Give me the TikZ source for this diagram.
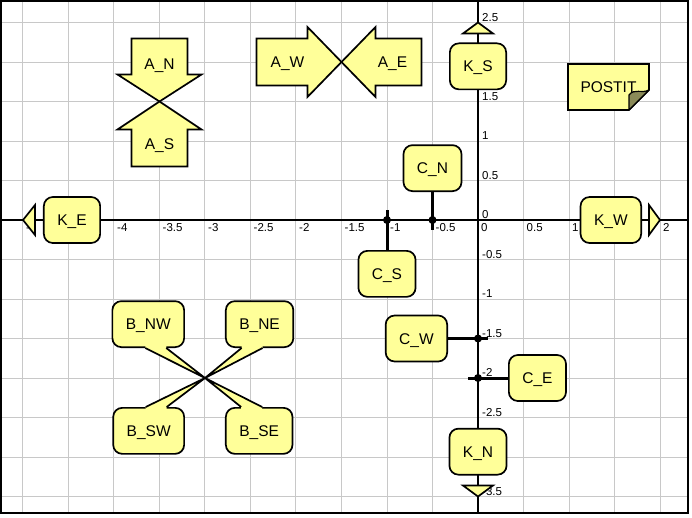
\documentclass[tikz,border=0pt]{standalone}
\usepackage{fontspec}
\setmainfont{Liberation Sans}
\usetikzlibrary{calc, positioning}

\definecolor{noteyellow}{RGB}{255,255,153}
\definecolor{foldolive}{RGB}{138,138,88}
\definecolor{gridgray}{RGB}{200,200,200}

\begin{document}
\begin{tikzpicture}[
    x=91pt, y=79pt,
    font=\fontsize{15.5pt}{18pt}\selectfont,
    gridline/.style={draw=gridgray, line width=1pt},
    axisline/.style={draw=black, line width=2.6pt},
    ticklabel/.style={font=\fontsize{11.5pt}{13pt}\selectfont, inner sep=1pt},
    shapeline/.style={draw=black, line width=1.7pt, fill=noteyellow, line join=miter},
    roundbox/.style={
        rectangle, draw=black, line width=1.7pt, fill=noteyellow,
        rounded corners=9pt, minimum height=46pt, minimum width=56pt,
        inner xsep=13.5pt, text height=11pt, text depth=0pt
    },
    stem/.style={draw=black, line width=3pt},
    dot/.style={circle, fill=black, inner sep=0pt, minimum size=8pt},
    pointer/.style={draw=black, line width=1.7pt, line join=round}
]

    % --- FRAME, GRID AND AXES ---
    \useasboundingbox (-478pt,-297pt) rectangle (214pt,220pt);
    \begin{scope}
        \clip (-477pt,-293pt) rectangle (210pt,219pt);
        \draw[gridline] (-5.3,-3.8) grid[xstep=0.5, ystep=0.5] (2.4,2.8);
        \draw[axisline] (-477pt,0) -- (210pt,0);
        \draw[axisline] (0,219pt) -- (0,-293pt);
    \end{scope}
    \draw[black, line width=1.5pt] (-477pt,-293pt) rectangle (210pt,219pt);

    \foreach \v [count=\i] in {-5,-4,-3.5,-3,-2.5,-2,-1.5,-1,-0.5,0,0.5,1,2}
        \node[ticklabel, anchor=north west] (xlab\i) at ([shift={(2pt,-2pt)}]\v,0) {\v};
    \foreach \v [count=\i] in {-3.5,-2.5,-2,-1.5,-1,-0.5,0,0.5,1,1.5,2.5}
        \node[ticklabel, anchor=south west] (ylab\i) at ([shift={(3pt,0pt)}]0,\v) {\v};

    % --- BLOCK ARROWS ---
    \coordinate (a_vtip) at (-3.5,1.5);
    \coordinate (a_htip) at (-1.5,2);
    \draw[shapeline] (a_vtip) -- ++(42pt,27pt) -- ++(-14pt,0) -- ++(0,36pt) -- ++(-56pt,0) -- ++(0,-36pt) -- ++(-14pt,0) -- cycle;
    \draw[shapeline] (a_vtip) -- ++(42pt,-28pt) -- ++(-14pt,0) -- ++(0,-37pt) -- ++(-56pt,0) -- ++(0,37pt) -- ++(-14pt,0) -- cycle;
    \draw[shapeline] (a_htip) -- ++(-34pt,35pt) -- ++(0,-11.5pt) -- ++(-51pt,0) -- ++(0,-47pt) -- ++(51pt,0) -- ++(0,-11.5pt) -- cycle;
    \draw[shapeline] (a_htip) -- ++(34pt,35pt) -- ++(0,-11.5pt) -- ++(46pt,0) -- ++(0,-47pt) -- ++(-46pt,0) -- ++(0,-11.5pt) -- cycle;
    \node[anchor=base] (A_N) at ($(a_vtip)+(0,32pt)$) {A\_N};
    \node[anchor=base] (A_S) at ($(a_vtip)+(0,-48pt)$) {A\_S};
    \node[anchor=base] (A_W) at ($(a_htip)+(-54pt,-5.5pt)$) {A\_W};
    \node[anchor=base] (A_E) at ($(a_htip)+(51pt,-5.5pt)$) {A\_E};

    % --- AXIS END MARKERS ---
    \coordinate (ks_tip) at (0,2.5);
    \coordinate (kn_tip) at (0,-3.5);
    \coordinate (ke_tip) at (-5,0);
    \coordinate (kw_tip) at (2,0);
    \draw[shapeline] (ks_tip) -- ++(15pt,-11pt) -- ++(-30pt,0) -- cycle;
    \draw[shapeline] (kn_tip) -- ++(15pt,11pt) -- ++(-30pt,0) -- cycle;
    \draw[shapeline] (ke_tip) -- ++(12pt,15pt) -- ++(0,-30pt) -- cycle;
    \draw[shapeline] (kw_tip) -- ++(-11pt,15pt) -- ++(0,-30pt) -- cycle;
    \node[roundbox, below=20pt of ks_tip] (K_S) {K\_S};
    \node[roundbox, above=21pt of kn_tip] (K_N) {K\_N};
    \node[roundbox, right=20pt of ke_tip] (K_E) {K\_E};
    \node[roundbox, left=18pt of kw_tip] (K_W) {K\_W};

    % --- PINNED BOXES ---
    \coordinate (cn_pt) at (-0.5,0);
    \coordinate (cs_pt) at (-1,0);
    \coordinate (cw_pt) at (0,-1.5);
    \coordinate (ce_pt) at (0,-2);
    \node[roundbox, above=28pt of cn_pt] (C_N) {C\_N};
    \node[roundbox, below=30pt of cs_pt] (C_S) {C\_S};
    \node[roundbox, left=30pt of cw_pt] (C_W) {C\_W};
    \node[roundbox, right=30pt of ce_pt] (C_E) {C\_E};
    \coordinate[below=10pt of cn_pt] (cn_end);
    \coordinate[above=10pt of cs_pt] (cs_end);
    \coordinate[right=10pt of cw_pt] (cw_end);
    \coordinate[left=10pt of ce_pt] (ce_end);
    \draw[stem] (C_N) -- (cn_end);
    \draw[stem] (C_S) -- (cs_end);
    \draw[stem] (C_W) -- (cw_end);
    \draw[stem] (C_E) -- (ce_end);
    \foreach \p in {cn_pt, cs_pt, cw_pt, ce_pt}
        \node[dot] (\p_dot) at (\p) {};

    % --- CALLOUTS ---
    \coordinate (b_tip) at (-3,-2);
    \node[roundbox, above left=30pt and 20pt of b_tip] (B_NW) {B\_NW};
    \node[roundbox, above right=30pt and 20pt of b_tip] (B_NE) {B\_NE};
    \node[roundbox, below left=29pt and 20pt of b_tip] (B_SW) {B\_SW};
    \node[roundbox, below right=29pt and 20pt of b_tip] (B_SE) {B\_SE};
    \foreach \bx/\side/\pa/\pb/\inn in {B_NW/south/-3pt/18pt/3pt, B_NE/south/3pt/-18pt/3pt,
                                        B_SW/north/-3pt/18pt/-3pt, B_SE/north/3pt/-18pt/-3pt}
        \fill[noteyellow] ($(\bx.\side)+(\pa,\inn)$) -- ($(\bx.\side)+(\pa,0pt)$) -- (b_tip)
            -- ($(\bx.\side)+(\pb,0pt)$) -- ($(\bx.\side)+(\pb,\inn)$) -- cycle;
    \foreach \bx/\side/\pa/\pb in {B_NW/south/-3pt/18pt, B_NE/south/3pt/-18pt,
                                   B_SW/north/-3pt/18pt, B_SE/north/3pt/-18pt}
        \draw[pointer] ($(\bx.\side)+(\pa,0pt)$) -- (b_tip) -- ($(\bx.\side)+(\pb,0pt)$);

    % --- NOTE ---
    \coordinate (postit_c) at (1.434,1.684);
    \draw[shapeline] ($(postit_c)+(-40.5pt,23pt)$) -- ($(postit_c)+(40.5pt,23pt)$) -- ($(postit_c)+(40.5pt,-3pt)$)
        -- ($(postit_c)+(20.5pt,-23pt)$) -- ($(postit_c)+(-40.5pt,-23pt)$) -- cycle;
    \draw[draw=black, line width=1.2pt, fill=foldolive, line join=round] ($(postit_c)+(20.5pt,-23pt)$) -- ($(postit_c)+(40.5pt,-3pt)$)
        .. controls ($(postit_c)+(33pt,-7pt)$) and ($(postit_c)+(26pt,-1pt)$) .. ($(postit_c)+(20.5pt,-8pt)$) -- cycle;
    \node[text height=11pt, text depth=0pt] (POSTIT) at (postit_c) {POSTIT};

\end{tikzpicture}
\end{document}
